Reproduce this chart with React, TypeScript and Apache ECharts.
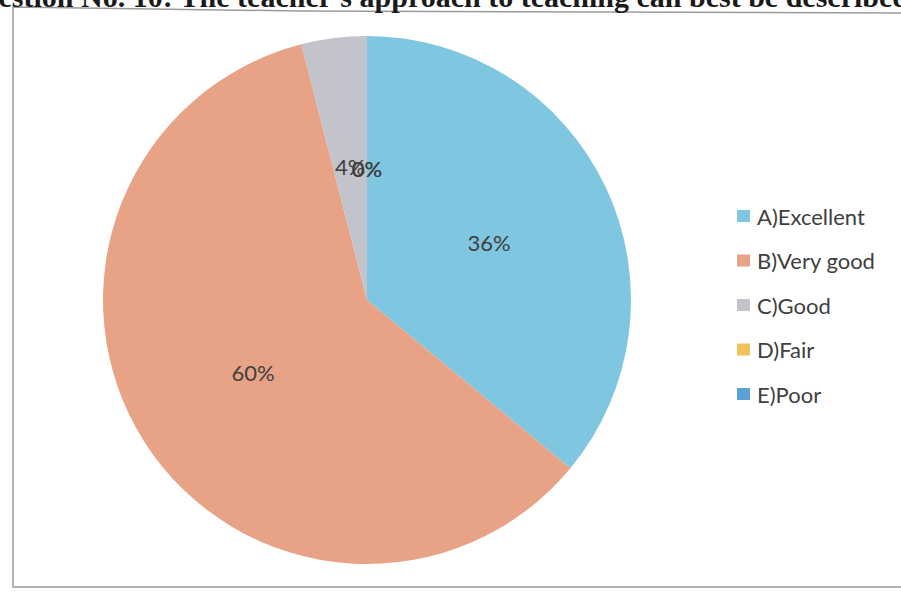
import React, { useEffect, useRef } from "react";
import * as echarts from "echarts";

const categories = ["A)Excellent", "B)Very good", "C)Good", "D)Fair", "E)Poor"];
const values = [36, 60, 4, 0, 0];
const colors = ["#7fc6e1", "#e8a387", "#c3c3cb", "#efc35a", "#5ba3d6"];
const titleText = "Question No. 10: The teacher's approach to teaching can best be described";

const CENTER: [number, number] = [367, 300];
const RADIUS = 264;
const START_ANGLE = 90;
const LABEL_FONT = "22px Lato";
const LABEL_COLOR = "#404040";

// ECharts hides labels of zero-value slices; place those labels at the
// slice's (zero-width) angle computed from the same data.
function zeroLabels() {
  const total = values.reduce((a, b) => a + b, 0);
  const out: any[] = [];
  let cum = 0;
  values.forEach((v) => {
    const start = START_ANGLE - (360 * cum) / total;
    const mid = start - (360 * v) / total / 2;
    cum += v;
    if (v === 0) {
      const rad = (mid * Math.PI) / 180;
      out.push({
        type: "text",
        x: CENTER[0] + (RADIUS / 2) * Math.cos(rad),
        y: CENTER[1] - (RADIUS / 2) * Math.sin(rad),
        z: 100,
        style: {
          text: `${v}%`,
          font: LABEL_FONT,
          fill: LABEL_COLOR,
          textAlign: "center",
          textVerticalAlign: "middle",
        },
      });
    }
  });
  return out;
}

export default function App() {
  const ref = useRef<HTMLDivElement>(null);
  useEffect(() => {
    if (!ref.current) return;
    const chart = echarts.init(ref.current, undefined, { renderer: "svg" });
    chart.setOption({
      animation: false,
      backgroundColor: "#ffffff",
      color: colors,
      graphic: [
        {
          type: "polyline",
          shape: {
            points: [
              [920, 587],
              [13, 587],
              [13, 7],
              [300, 11],
              [920, 13],
            ],
          },
          style: { fill: "none", stroke: "#9a9aa2", lineWidth: 1.5 },
          z: 0,
        },
        {
          type: "text",
          x: 909,
          y: -3.5,
          style: {
            text: titleText,
            fill: "#1a1a1a",
            font: "bold 30px 'Liberation Serif', serif",
            textAlign: "right",
            textVerticalAlign: "middle",
          },
        },
        ...zeroLabels(),
      ],
      legend: {
        orient: "vertical",
        left: 732,
        top: 200,
        icon: "rect",
        itemWidth: 13,
        itemHeight: 12,
        itemGap: 22.5,
        textStyle: {
          fontFamily: "Lato",
          fontSize: 22,
          lineHeight: 20,
          color: LABEL_COLOR,
          padding: [0, 0, 0, 2],
        },
        data: categories,
      },
      series: [
        {
          type: "pie",
          center: CENTER,
          radius: RADIUS,
          startAngle: START_ANGLE,
          clockwise: true,
          avoidLabelOverlap: false,
          label: {
            show: true,
            position: "inside",
            formatter: (p: any) => `${p.value}%`,
            fontFamily: "Lato",
            fontSize: 22,
            color: LABEL_COLOR,
          },
          labelLine: { show: false },
          itemStyle: { borderWidth: 0 },
          emphasis: { disabled: true },
          data: categories.map((name, i) => ({ name, value: values[i] })),
        },
      ],
    });
    return () => chart.dispose();
  }, []);
  return (
    <div
      ref={ref}
      style={{ position: "absolute", left: 0, top: 0, width: 901, height: 593 }}
    />
  );
}
